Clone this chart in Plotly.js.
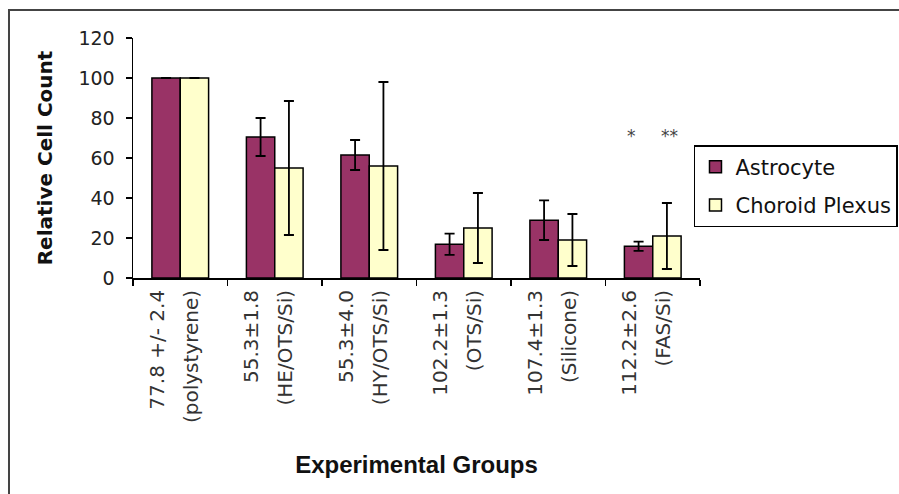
<!DOCTYPE html>
<html><head><meta charset="utf-8">
<script src="https://cdn.plot.ly/plotly-3.0.1.min.js"></script>
<style>html,body{margin:0;padding:0;background:#fff;} #chart{width:899px;height:494px;}</style>
</head><body><div id="chart"></div>
<script>
const categories = [
  "77.8 +/- 2.4<br>(polystyrene)",
  "55.3±1.8<br>(HE/OTS/Si)",
  "55.3±4.0<br>(HY/OTS/Si)",
  "102.2±1.3<br>(OTS/Si)",
  "107.4±1.3<br>(Silicone)",
  "112.2±2.6<br>(FAS/Si)"
];
const seriesNames = ["Astrocyte", "Choroid Plexus"];
const astrocyte = [100, 70.5, 61.5, 16.9, 28.9, 15.9];
const astrocyteErr = [0, 9.5, 7.5, 5.3, 9.9, 2.3];
const choroid = [100, 55, 56, 25, 19, 21];
const choroidErr = [0, 33.5, 42, 17.5, 13, 16.5];
const yTicks = [0, 20, 40, 60, 80, 100, 120];
const marks = ["*", "**"];
const markGroup = categories[5];
const markValue = 71;

const FONT = "DejaVu Sans";
const errStyle = {type: "data", visible: true, color: "#000", thickness: 1.8, width: 5};

// tick text: glyphs drawn at 20px while the line box uses the larger tick font size (wider line spacing)
const tickText = categories.map(c => c.split("<br>").map(s => '<span style="font-size:20px">' + s + '</span>').join("<br>"));

const traces = [
  {type: "bar", name: seriesNames[0], x: categories, y: astrocyte, legendgroup: "a",
   marker: {color: "#993366", line: {color: "#000", width: 1.5}},
   error_y: Object.assign({array: astrocyteErr}, errStyle)},
  {type: "bar", name: seriesNames[1], x: categories, y: choroid, legendgroup: "b",
   marker: {color: "#FFFFCC", line: {color: "#000", width: 1.5}},
   error_y: Object.assign({array: choroidErr}, errStyle)}
];

const layout = {
  width: 899, height: 494,
  margin: {l: 133, r: 199, t: 38, b: 216, pad: 0, autoexpand: false},
  paper_bgcolor: "#fff", plot_bgcolor: "#fff",
  font: {family: FONT, color: "#222"},
  barmode: "group", bargap: 0.4, bargroupgap: 0,
  showlegend: true,
  legend: {x: 0.9894, xanchor: "left", y: 0.554, yanchor: "top",
           bordercolor: "#000", borderwidth: 1.5, bgcolor: "#fff",
           font: {family: FONT, size: 21, color: "#111"}, tracegroupgap: 8},
  xaxis: {type: "category", showline: true, linecolor: "#000", linewidth: 1.5,
          ticks: "outside", tickson: "boundaries", ticklen: 6, tickwidth: 1.5, tickcolor: "#000",
          tickmode: "array", tickvals: categories, ticktext: tickText, ticklabelshift: -8,
          tickangle: -90, tickfont: {family: FONT, size: 26, color: "#333"},
          showgrid: false, zeroline: false, automargin: false,
          title: {text: "Experimental Groups", standoff: 34,
                  font: {family: "Liberation Sans", size: 24, weight: "bold", color: "#111"}}},
  yaxis: {range: [0, 120], tickvals: yTicks, ticktext: yTicks.map(String), tickmode: "array",
          showline: true, linecolor: "#000", linewidth: 1.5,
          ticks: "outside", ticklen: 6, tickwidth: 1.5, tickcolor: "#000", ticklabelstandoff: 7,
          tickfont: {family: FONT, size: 19, color: "#222"},
          showgrid: false, zeroline: false, automargin: false, fixedrange: true,
          title: {text: "Relative Cell Count", standoff: 20,
                  font: {family: FONT, size: 20, weight: "bold", color: "#111"}}},
  annotations: [
    {x: markGroup, y: markValue, xref: "x", yref: "y", text: marks[0], showarrow: false,
     xshift: -21, font: {family: FONT, size: 17, color: "#444"}},
    {x: markGroup, y: markValue, xref: "x", yref: "y", text: marks[1], showarrow: false,
     xshift: 17, font: {family: FONT, size: 17, color: "#444"}}
  ],
  shapes: [
    {type: "rect", xref: "paper", yref: "paper", x0: -0.2187, x1: 1.36, y0: -0.93, y1: 1.1167,
     line: {color: "#444", width: 2}, fillcolor: "rgba(0,0,0,0)", layer: "below"}
  ]
};

Plotly.newPlot("chart", traces, layout, {displayModeBar: false, staticPlot: true});
</script>
</body></html>
